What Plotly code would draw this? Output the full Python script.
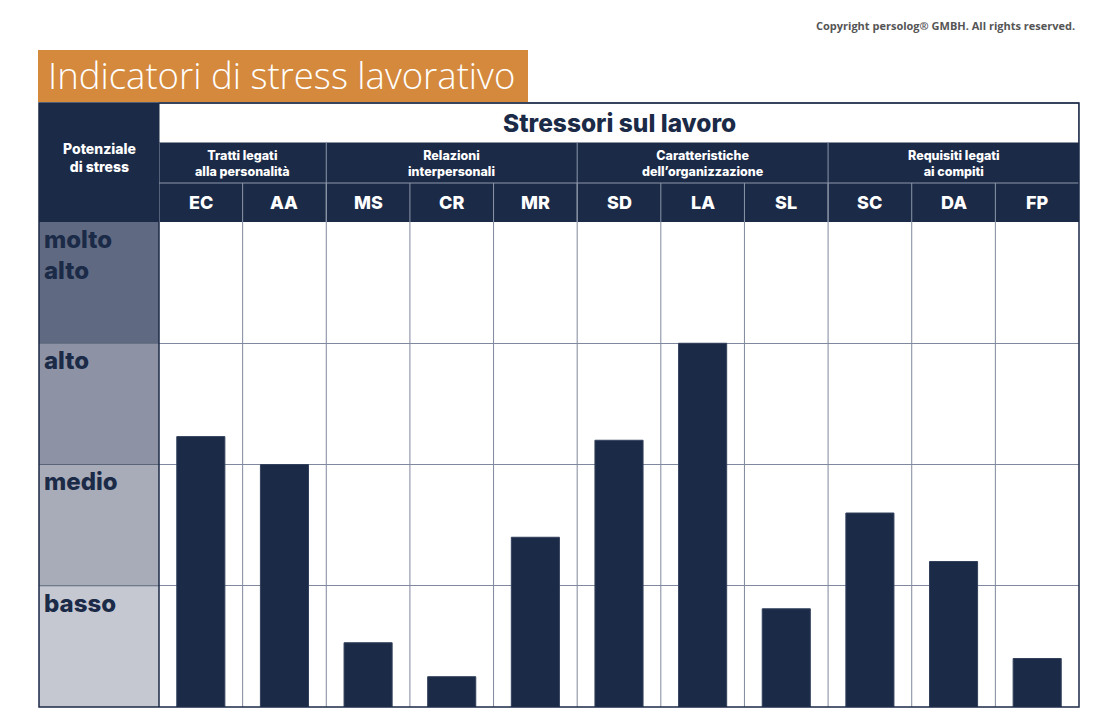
import plotly.graph_objects as go

W, H = 1110, 724

codes = ["EC", "AA", "MS", "CR", "MR", "SD", "LA", "SL", "SC", "DA", "FP"]
values = [2.23, 2.0, 0.53, 0.25, 1.40, 2.20, 3.0, 0.81, 1.60, 1.20, 0.40]
groups = ["Tratti legati<br>alla personalità", "Relazioni<br>interpersonali",
          "Caratteristiche<br>dell’organizzazione", "Requisiti legati<br>ai compiti"]
group_sizes = [2, 3, 3, 3]
levels = ["basso", "medio", "alto", "molto<br>alto"]
level_colors = ["#C5C8D1", "#A8ACB9", "#8D93A5", "#5F6981"]

title = "Indicatori di stress lavorativo"
subtitle = "Stressori sul lavoro"
left_head = "Potenziale<br>di stress"
copyright_txt = "Copyright persolog® GMBH. All rights reserved."

NAVY = "#1B2A47"
GRID = "#7F889C"
HLINE = "#8E97A9"
ORANGE = "#D4893D"
FONT = "Inter"

def px(x):
    return x / W

def py(y):
    return 1 - y / H

# plot area pixel bounds
X0, X1 = 159, 1079
Y_TOP, Y_BOT = 222, 707
FRAME_TOP = 103
ROW1, ROW2 = 143, 183

fig = go.Figure()
fig.add_trace(go.Bar(
    x=list(range(len(codes))), y=values,
    marker=dict(color=NAVY, line=dict(color="#33405C", width=1)),
    width=0.575, hoverinfo="skip", showlegend=False,
))

shapes = []
annots = []

# left level bands
for i, (lab, col) in enumerate(zip(levels, level_colors)):
    shapes.append(dict(type="rect", xref="paper", yref="y", x0=px(39), x1=px(X0),
                       y0=i, y1=i + 1, fillcolor=col, line=dict(width=0), layer="below"))
    annots.append(dict(xref="paper", yref="y", x=px(42), y=i + 1, text=lab,
                       xanchor="left", yanchor="top", yshift=-1, align="left", showarrow=False,
                       font=dict(family=FONT, size=24, color=NAVY, weight=800)))
    if i > 0:
        shapes.append(dict(type="line", xref="paper", yref="y", x0=px(39), x1=px(X0),
                           y0=i, y1=i, line=dict(color="#5A6479", width=1)))

# vertical column separators in plot area
n = len(codes)
for i in range(n - 1):
    shapes.append(dict(type="line", xref="x", yref="y", x0=i + 0.5, x1=i + 0.5,
                       y0=0, y1=4, line=dict(color=GRID, width=1), layer="below"))

# header: left navy block
shapes.append(dict(type="rect", xref="paper", yref="paper", x0=px(39), x1=px(X0),
                   y0=py(Y_TOP), y1=py(FRAME_TOP), fillcolor=NAVY, line=dict(width=0)))
annots.append(dict(xref="paper", yref="paper", x=px(99), y=py(158), text=left_head,
                   xanchor="center", yanchor="middle", showarrow=False, align="center",
                   font=dict(family=FONT, size=14, color="white", weight=800)))

# header: navy rows for groups and codes
shapes.append(dict(type="rect", xref="x", yref="paper", x0=-0.5, x1=n - 0.5,
                   y0=py(Y_TOP), y1=py(ROW1), fillcolor=NAVY, line=dict(width=0)))
# header subtitle box
shapes.append(dict(type="rect", xref="x", yref="paper", x0=-0.5, x1=n - 0.5,
                   y0=py(ROW1), y1=py(FRAME_TOP), fillcolor="white",
                   line=dict(color=NAVY, width=1)))
annots.append(dict(xref="paper", yref="paper", x=(px(X0) + px(X1)) / 2, y=py(123),
                   text=subtitle, xanchor="center", yanchor="middle", showarrow=False,
                   font=dict(family=FONT, size=24.5, color=NAVY, weight=800)))
# separator between group row and code row
shapes.append(dict(type="line", xref="x", yref="paper", x0=-0.5, x1=n - 0.5,
                   y0=py(ROW2), y1=py(ROW2), line=dict(color=HLINE, width=1)))
# left edge of header rows
shapes.append(dict(type="line", xref="x", yref="paper", x0=-0.5, x1=-0.5,
                   y0=py(Y_TOP), y1=py(ROW1), line=dict(color=HLINE, width=1)))

start = 0
for g, s in zip(groups, group_sizes):
    c = start + (s - 1) / 2
    annots.append(dict(xref="x", yref="paper", x=c, y=py(163), text=g, showarrow=False,
                       xanchor="center", yanchor="middle", align="center",
                       font=dict(family=FONT, size=12.5, color="white", weight=800)))
    if start > 0:
        shapes.append(dict(type="line", xref="x", yref="paper", x0=start - 0.5, x1=start - 0.5,
                           y0=py(Y_TOP), y1=py(ROW1), line=dict(color=HLINE, width=1)))
    start += s

for i, c in enumerate(codes):
    annots.append(dict(xref="x", yref="paper", x=i, y=py(203), text=c, showarrow=False,
                       xanchor="center", yanchor="middle",
                       font=dict(family=FONT, size=18, color="white", weight=800)))
    if i > 0:
        shapes.append(dict(type="line", xref="x", yref="paper", x0=i - 0.5, x1=i - 0.5,
                           y0=py(Y_TOP), y1=py(ROW2), line=dict(color=HLINE, width=1)))

# left column right edge
shapes.append(dict(type="line", xref="paper", yref="paper", x0=px(X0), x1=px(X0),
                   y0=py(Y_BOT), y1=py(Y_TOP), line=dict(color=NAVY, width=1.5)))
# outer frame
shapes.append(dict(type="rect", xref="paper", yref="paper", x0=px(39), x1=px(X1),
                   y0=py(Y_BOT), y1=py(FRAME_TOP), line=dict(color=NAVY, width=1.5)))

# title box
shapes.append(dict(type="rect", xref="paper", yref="paper", x0=px(38), x1=px(528),
                   y0=py(102), y1=py(50), fillcolor=ORANGE, line=dict(width=0)))
annots.append(dict(xref="paper", yref="paper", x=px(46), y=py(75), text=title,
                   xanchor="left", yanchor="middle", showarrow=False,
                   font=dict(family="Open Sans", size=36.5, color="white", weight=300)))

annots.append(dict(xref="paper", yref="paper", x=px(1077), y=py(26), text=copyright_txt,
                   xanchor="right", yanchor="middle", showarrow=False,
                   font=dict(family="Open Sans", size=11, color="#555555", weight=700)))

fig.update_layout(
    width=W, height=H, margin=dict(l=0, r=0, t=0, b=0),
    paper_bgcolor="white", plot_bgcolor="white",
    bargap=0.425, showlegend=False,
    shapes=shapes, annotations=annots,
    xaxis=dict(domain=[px(X0), px(X1)], range=[-0.5, n - 0.5], showticklabels=False,
               showgrid=False, zeroline=False, fixedrange=True),
    yaxis=dict(domain=[py(Y_BOT), py(Y_TOP)], range=[0, 4], dtick=1, showticklabels=False,
               showgrid=True, gridcolor=GRID, gridwidth=1, zeroline=False, fixedrange=True),
)

fig.write_html("out.html", config={"displayModeBar": False})
